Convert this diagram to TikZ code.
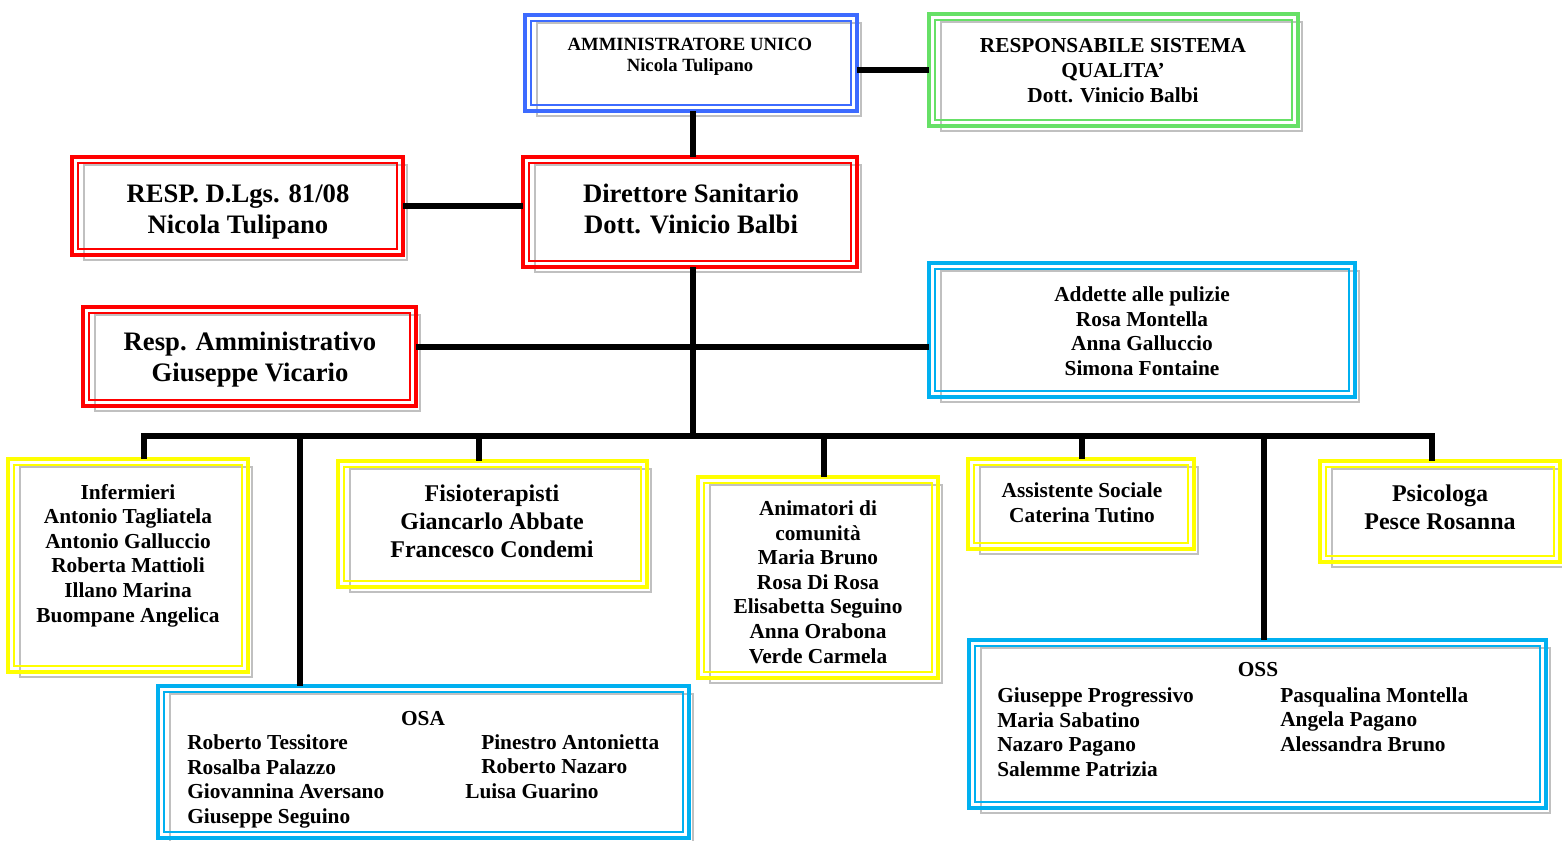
\documentclass[tikz,border=0pt]{standalone}
\usepackage{fontspec}
\setmainfont{Liberation Serif}
\usetikzlibrary{fit}
\definecolor{cblue}{HTML}{3D6BFF}
\definecolor{cgreen}{HTML}{66E066}
\definecolor{cred}{HTML}{FF0000}
\definecolor{cyel}{HTML}{FFFF00}
\definecolor{ccyan}{HTML}{00B0F0}
\definecolor{cshad}{HTML}{C0C0C0}
\newcommand{\orgbox}[6]{%
  \draw[shadline] ({#2+12},{#3+8}) rectangle ({#4+4},{#5+5});
  \node[outerbox, draw=#6, fit={(#2,#3) (#4,#5)}] (#1) {};
  \draw[innerline, draw=#6] ([shift={(6,6)}]#1.north west) rectangle ([shift={(-6,-6)}]#1.south east);
}
\tikzset{
  shadline/.style={draw=cshad, line width=2.2pt},
  outerbox/.style={inner sep=0pt, outer sep=0pt, line width=2.3pt},
  innerline/.style={line width=2pt},
  conn/.style={line width=3.8pt, draw=black},
  txtS/.style={align=center, inner sep=0pt, font=\fontsize{14}{15.75}\selectfont\bfseries},
  txtM/.style={align=center, inner sep=0pt, font=\fontsize{16}{18.45}\selectfont\bfseries},
  txtF/.style={align=center, inner sep=0pt, font=\fontsize{18}{21}\selectfont\bfseries},
  txtL/.style={align=center, inner sep=0pt, font=\fontsize{20}{23.25}\selectfont\bfseries},
  colL/.style={align=left, inner sep=0pt, anchor=west, font=\fontsize{16}{18.45}\selectfont\bfseries},
}
\begin{document}
\begin{tikzpicture}[x=0.75pt, y=-0.75pt]
\useasboundingbox (0,0) rectangle (1562,840);
% boxes
\orgbox{amm}{525}{15}{857}{111}{cblue}
\orgbox{rsq}{929}{14}{1298}{126}{cgreen}
\orgbox{dir}{523}{157}{857}{267}{cred}
\orgbox{dlgs}{72}{157}{403}{255}{cred}
\orgbox{ramm}{83}{307}{416}{406}{cred}
\orgbox{add}{929}{263}{1355}{397}{ccyan}
\orgbox{inf}{8}{459}{248}{672}{cyel}
\orgbox{fis}{338}{461}{647}{587}{cyel}
\orgbox{ani}{698}{477}{938}{678}{cyel}
\orgbox{ass}{968}{459}{1194}{549}{cyel}
\orgbox{psi}{1320}{461}{1560}{562}{cyel}
\orgbox{osa}{158}{686}{689}{838}{ccyan}
\orgbox{oss}{969}{640}{1546}{808}{ccyan}
% texts
\node[txtS] (ammT) at (690,57) {AMMINISTRATORE UNICO\\Nicola Tulipano};
\node[txtM] (rsqT) at (1113,70.5) {RESPONSABILE SISTEMA\\QUALITA’\\Dott. Vinicio Balbi};
\node[txtL] (dirT) at (691,208.5) {Direttore Sanitario\\Dott. Vinicio Balbi};
\node[txtL] (dlgsT) at (238,211.5) {RESP. D.Lgs. 81/08\\Nicola Tulipano};
\node[txtL] (rammT) at (250,359.5) {Resp. Amministrativo\\Giuseppe Vicario};
\node[txtM] (addT) at (1142,331) {Addette alle pulizie\\Rosa Montella\\Anna Galluccio\\Simona Fontaine};
\node[txtM] (infT) at (128,555.5) {Infermieri\\Antonio Tagliatela\\Antonio Galluccio\\Roberta Mattioli\\Illano Marina\\Buompane Angelica};
\node[txtF] (fisT) at (492,521) {Fisioterapisti\\Giancarlo Abbate\\Francesco Condemi};
\node[txtM] (aniT) at (818,582) {Animatori di\\comunità\\Maria Bruno\\Rosa Di Rosa\\Elisabetta Seguino\\Anna Orabona\\Verde Carmela};
\node[txtM] (assT) at (1082,503) {Assistente Sociale\\Caterina Tutino};
\node[txtF] (psiT) at (1440,507) {Psicologa\\Pesce Rosanna};
\node[txtM] (osaT) at (423,718.5) {OSA};
\node[colL] (osaL) at (187,781.5) {Roberto Tessitore\\Rosalba Palazzo\\Giovannina Aversano\\Giuseppe Seguino};
\node[colL] (osaR) at (481,766.5) {Pinestro Antonietta\\Roberto Nazaro\\\hspace*{-12pt}Luisa Guarino};
\node[txtM] (ossT) at (1258,670) {OSS};
\node[colL] (ossL) at (997,732) {Giuseppe Progressivo\\Maria Sabatino\\Nazaro Pagano\\Salemme Patrizia};
\node[colL] (ossR) at (1280,719.5) {Pasqualina Montella\\Angela Pagano\\Alessandra Bruno};
% connectors
\draw[conn] (rsq.west) -- (rsq.west -| amm.east);
\coordinate (vx) at (693,0);
\draw[conn] (amm.south -| vx) -- (dir.north -| vx);
\draw[conn] (dlgs.east) -- (dlgs.east -| dir.west);
\coordinate (bus) at (693,436);
\draw[conn] (dir.south -| vx) -- (bus);
\coordinate (mid) at (693,347);
\draw[conn] (ramm.east |- mid) -- (add.west |- mid);
\coordinate (busL) at (144,436);
\coordinate (busR) at (1432,436);
\draw[conn] (busL) -- (busR);
\coordinate (dInf) at (144,436);
\coordinate (dOsa) at (300,436);
\coordinate (dFis) at (479,436);
\coordinate (dAni) at (824,436);
\coordinate (dAss) at (1082,436);
\coordinate (dOss) at (1264,436);
\coordinate (dPsi) at (1432,436);
\draw[conn] ([yshift=1.9pt]dInf) -- (dInf |- inf.north);
\draw[conn] (dOsa) -- (dOsa |- osa.north);
\draw[conn] (dFis) -- (dFis |- fis.north);
\draw[conn] (dAni) -- (dAni |- ani.north);
\draw[conn] (dAss) -- (dAss |- ass.north);
\draw[conn] (dOss) -- (dOss |- oss.north);
\draw[conn] ([yshift=1.9pt]dPsi) -- (dPsi |- psi.north);
\end{tikzpicture}
\end{document}
